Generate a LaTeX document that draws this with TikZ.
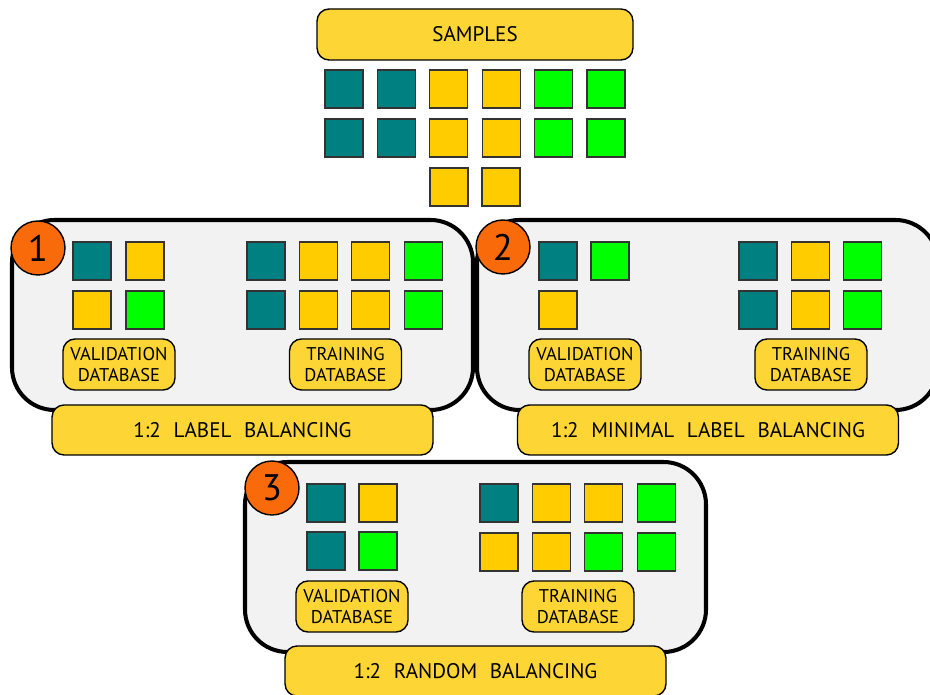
\documentclass[tikz,border=0pt]{standalone}
\usepackage{fontspec}
\setmainfont{PT Sans}
\usetikzlibrary{positioning}
\definecolor{sampteal}{HTML}{008080}
\definecolor{sampgold}{HTML}{FFCC00}
\definecolor{sampgreen}{HTML}{00FF00}
\definecolor{taggold}{HTML}{FDD535}
\definecolor{panelgray}{HTML}{F2F2F2}
\definecolor{numorange}{HTML}{F86A0A}
\newcommand{\dbfont}{\fontsize{10.5}{11.9}\selectfont}
\newcommand{\balfont}{\fontsize{12}{14}\selectfont\spaceskip=0.6em\relax}
\newcommand{\numfont}{\fontsize{21}{21}\selectfont}
\newcommand{\sample}[3]{\filldraw[sample,fill=#3] (#1,#2) rectangle ++(38,38);}
\tikzset{
  sample/.style={draw=black!80,line width=0.6pt},
  panel/.style={draw=black,line width=2.3pt,fill=panelgray,rounded corners=0.85cm},
  tag/.style={draw=black,line width=0.8pt,fill=taggold,rounded corners=0.24cm,align=center,inner sep=0pt},
  dbtag/.style={tag,minimum width=2.24cm,minimum height=1.02cm,font=\dbfont},
  baltag/.style={tag,minimum width=7.62cm,minimum height=1cm,font=\balfont},
  numdot/.style={circle,draw=black,line width=0.8pt,fill=numorange,minimum size=1.08cm,inner sep=0pt,font=\numfont}
}

\begin{document}
\begin{tikzpicture}[x=0.02cm,y=-0.02cm]
  \useasboundingbox (0,0) rectangle (930,695);
  \clip (0,0) rectangle (930,695);
  % all samples
  \node[tag,minimum width=6.32cm,minimum height=1.02cm,font=\balfont] (samples) at (475,34.5) {SAMPLES};
  \foreach \c/\col in {0/sampteal,1/sampteal,2/sampgold,3/sampgold,4/sampgreen,5/sampgreen} {
    \sample{325+52.4*\c}{70}{\col}
    \sample{325+52.4*\c}{119}{\col}}
  \sample{430}{168}{sampgold}
  \sample{482}{168}{sampgold}
  % 1: label balancing
  \begin{scope}[shift={(12,220)}]
    \draw[panel] (0,0) rectangle (461,190);
    \node[numdot] (num1) at (26,28) {1};
    \sample{61}{22}{sampteal} \sample{114}{22}{sampgold}
    \sample{61}{71}{sampgold} \sample{114}{71}{sampgreen}
    \foreach \c/\col in {0/sampteal,1/sampgold,2/sampgold,3/sampgreen} {
      \sample{235+52.4*\c}{22}{\col}
      \sample{235+52.4*\c}{71}{\col}}
    \node[dbtag] (val1) at (107,144.5) {VALIDATION\\DATABASE};
    \node[dbtag] (train1) at (333.5,144.5) {TRAINING\\DATABASE};
    \node[baltag] (bal1) at (230.5,210) {1:2 LABEL BALANCING};
  \end{scope}
  % 2: minimal label balancing
  \begin{scope}[shift={(477,220)}]
    \draw[panel] (0,0) rectangle (461,190);
    \node[numdot] (num2) at (26,27) {2};
    \sample{62}{22}{sampteal} \sample{114}{22}{sampgreen}
    \sample{62}{71}{sampgold}
    \foreach \c/\col in {0/sampteal,1/sampgold,2/sampgreen} {
      \sample{262+52.4*\c}{22}{\col}
      \sample{262+52.4*\c}{71}{\col}}
    \node[dbtag] (val2) at (108,144.5) {VALIDATION\\DATABASE};
    \node[dbtag] (train2) at (334,144.5) {TRAINING\\DATABASE};
    \node[baltag] (bal2) at (231,210) {1:2 MINIMAL LABEL BALANCING};
  \end{scope}
  % 3: random balancing
  \begin{scope}[shift={(245,462)}]
    \draw[panel] (0,0) rectangle (461,190);
    \node[numdot] (num3) at (27,26) {3};
    \sample{62}{22}{sampteal} \sample{114}{22}{sampgold}
    \sample{62}{70}{sampteal} \sample{114}{70}{sampgreen}
    \foreach \c/\col/\cc in {0/sampteal/sampgold,1/sampgold/sampgold,2/sampgold/sampgreen,3/sampgreen/sampgreen} {
      \sample{235+52.4*\c}{22}{\col}
      \sample{235+52.4*\c}{71}{\cc}}
    \node[dbtag] (val3) at (107,144.5) {VALIDATION\\DATABASE};
    \node[dbtag] (train3) at (333,144.5) {TRAINING\\DATABASE};
    \node[baltag] (bal3) at (230.5,209) {1:2 RANDOM BALANCING};
  \end{scope}
\end{tikzpicture}
\end{document}
